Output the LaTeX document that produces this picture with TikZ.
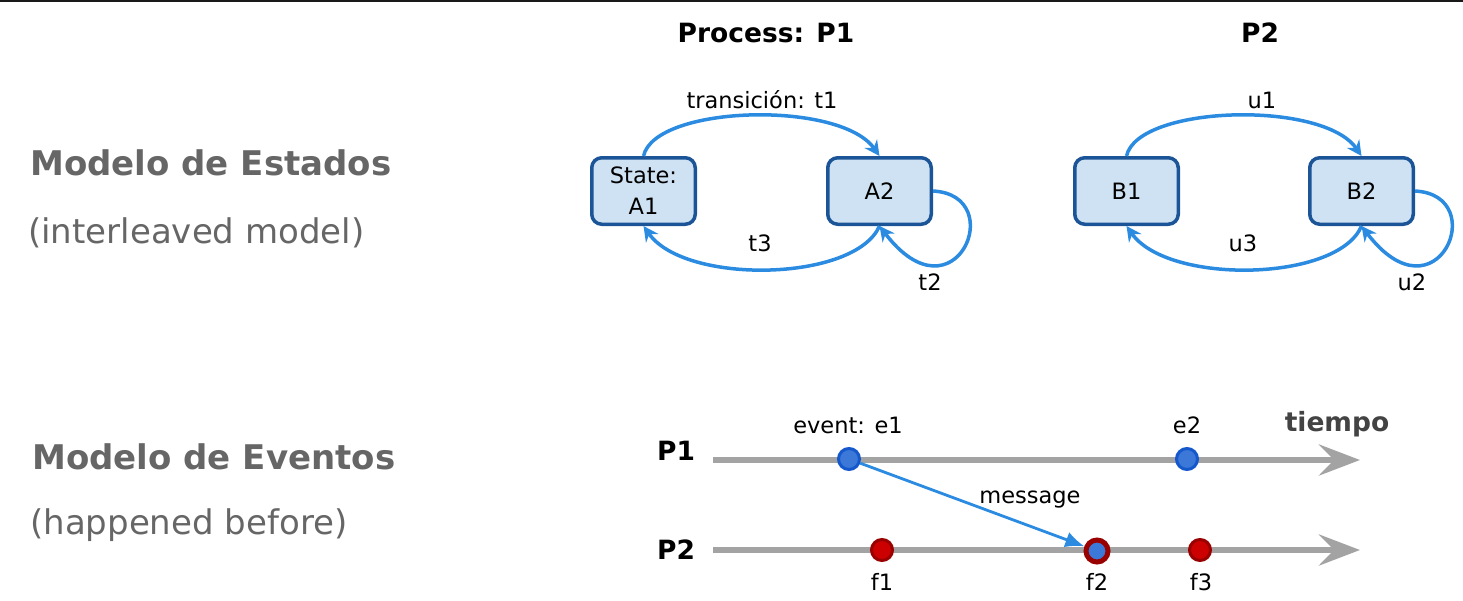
\documentclass[tikz,border=0pt]{standalone}
\usepackage{fontspec}
\setmainfont{DejaVu Sans}
\usetikzlibrary{arrows.meta,shapes.geometric}
\definecolor{boxfill}{HTML}{CFE2F3}
\definecolor{boxline}{HTML}{1C5597}
\definecolor{transblue}{HTML}{2B8BE0}
\definecolor{headgray}{HTML}{666666}
\definecolor{linegray}{HTML}{A3A3A3}
\definecolor{evblue}{HTML}{3C78D8}
\definecolor{evblueline}{HTML}{1558CC}
\definecolor{evred}{HTML}{CC0000}
\definecolor{evredline}{HTML}{990000}
\definecolor{timegray}{HTML}{434343}

\begin{document}
\begin{tikzpicture}[x=1pt,y=-1pt]
\tikzstyle{every node}=[inner sep=0pt,font=\fontsize{22.5}{31}\selectfont]
\tikzstyle{heading}=[anchor=west,text=headgray,font=\fontsize{34}{40}\selectfont\bfseries]
\tikzstyle{subheading}=[anchor=west,text=headgray,font=\fontsize{34}{40}\selectfont]
\tikzstyle{procname}=[font=\fontsize{26.5}{30}\selectfont\bfseries]
\tikzstyle{state}=[draw=boxline,fill=boxfill,line width=3.5pt,rounded corners=10pt,
  minimum width=103.5pt,minimum height=66.5pt,align=center]
\tikzstyle{trans}=[draw=transblue,line width=3.5pt,-{Stealth[length=15pt,width=15pt,inset=5pt]}]
\tikzstyle{timeline}=[draw=linegray,line width=6.5pt,-{Stealth[length=41pt,width=31pt,inset=15pt]}]
\tikzstyle{msg}=[draw=transblue,line width=2.8pt,-{Latex[length=19pt,width=16pt]}]
\tikzstyle{evp}=[ellipse,draw=evblueline,fill=evblue,line width=3pt,minimum width=21pt,minimum height=21pt]
\tikzstyle{evq}=[ellipse,draw=evredline,fill=evred,line width=3pt,minimum width=21pt,minimum height=21pt]
\useasboundingbox (0,0) rectangle (1463,600);
\draw[line width=2pt,black!90] (0,1) -- (1463,1);

% left hand titles
\node[heading] (mest) at (30,163) {Modelo de Estados};
\node[subheading] (iest) at (28,233) {(interleaved model)};
\node[heading] (mev) at (32,457) {Modelo de Eventos};
\node[subheading] (iev) at (30,525) {(happened before)};

% state model
\node[procname] (hp1) at (766,33) {Process: P1};
\node[procname] (hp2) at (1260,33) {P2};
\begin{scope}
 \node[state] (A1) at (643.5,191) {State:\\A1};
 \node[state] (A2) at (879.5,191) {A2};
 \node[state] (B1) at (1126.5,191) {B1};
 \node[state] (B2) at (1361.5,191) {B2};
 \draw[trans] (A1.north) .. controls (655,105) and (840,100) .. (A2.north);
 \draw[trans] (A2.south) .. controls (855,282) and (685,285) .. (A1.south);
 \draw[trans] (A2.east) .. controls (1010,195) and (955,325) .. (A2.south);
 \draw[trans] (B1.north) .. controls (1138,105) and (1323,100) .. (B2.north);
 \draw[trans] (B2.south) .. controls (1338,282) and (1168,285) .. (B1.south);
 \draw[trans] (B2.east) .. controls (1492,195) and (1437,325) .. (B2.south);
 \node (lt1) at (762,100) {transición: t1};
 \node (lt3) at (760,243) {t3};
 \node (lt2) at (930,282) {t2};
 \node (lu1) at (1262,100) {u1};
 \node (lu3) at (1243,243) {u3};
 \node (lu2) at (1412,282) {u2};
\end{scope}

% event model
\begin{scope}
 \node[procname] (tp1) at (676,451) {P1};
 \node[procname] (tp2) at (676,550) {P2};
 \coordinate (p1start) at (713,460);
 \coordinate (p1end) at (1360,460);
 \coordinate (p2start) at (713,550);
 \coordinate (p2end) at (1360,550);
 \draw[timeline] (p1start) -- (p1end);
 \draw[timeline] (p2start) -- (p2end);
 \node[procname,text=timegray] (tiempo) at (1337,424) {tiempo};
 \node[evp] (e1) at (849,459) {};
 \node[evp] (e2) at (1187,459) {};
 \node[evq] (f1) at (882,550) {};
 \node[ellipse,draw=evredline,fill=evblue,line width=5pt,minimum width=22pt,minimum height=22pt] (f2) at (1097,551) {};
 \node[evq] (f3) at (1200,550) {};
 \draw[msg] (e1) -- (f2);
 \node (le1) at (848,425) {event: e1};
 \node (le2) at (1187,425) {e2};
 \node (lmsg) at (1030,500) {message};
 \node (lf1) at (882,582) {f1};
 \node (lf2) at (1097,582) {f2};
 \node (lf3) at (1201,582) {f3};
\end{scope}
\end{tikzpicture}
\end{document}
